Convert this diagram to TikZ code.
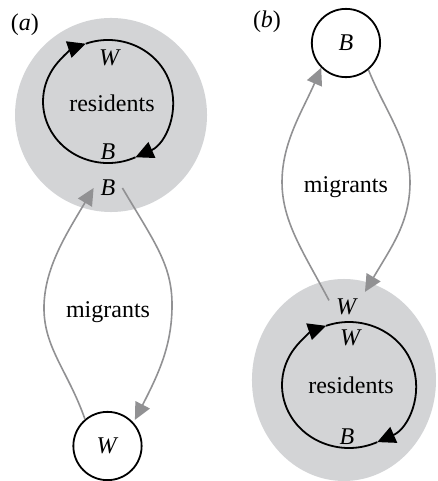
\documentclass[tikz,border=0pt]{standalone}
\usepackage{fontspec}
\setmainfont{Liberation Serif}
\usepackage{tikz}
\usetikzlibrary{arrows.meta}
\definecolor{patch}{RGB}{211,212,214}
\definecolor{route}{RGB}{145,145,147}

\begin{document}
\begin{tikzpicture}[every node/.style={font=\fontsize{12}{14}\selectfont},
				   site/.style={circle, draw=black, line width=0.9pt, minimum size=1.2cm, inner sep=0pt},
				   flow/.style={route, line width=0.8pt, -{Triangle[length=8.5pt, width=8pt]}},
				   turn/.style={black, line width=0.9pt, -{Triangle[length=9pt, width=8.5pt]}}]
\useasboundingbox (0,0) rectangle (7.697,8.453);

\fill[patch] (1.951,6.432) ellipse [x radius=1.687, y radius=1.705];
\fill[patch] (6.045,1.775) ellipse [x radius=1.617, y radius=1.775];

\node (labA) at (0.439,8.014) {(\textit{a})};
\node (labB) at (4.692,8.067) {(\textit{b})};

\coordinate (ringA) at (1.898,6.669);
\draw[turn] ([shift={(295:1.142 and 1.081)}]ringA) arc [start angle=295, end angle=110, x radius=1.142, y radius=1.081];
\draw[turn] ([shift={(110:1.142 and 1.081)}]ringA) arc [start angle=110, end angle=-65, x radius=1.142, y radius=1.081];
\node (WinA) at (1.933,7.433) {\textit{W}};
\node (resA) at (1.968,6.643) {residents};
\node (BinA) at (1.898,5.782) {\textit{B}};
\node (Bgate) at (1.898,5.149) {\textit{B}};
\node (migA) at (1.898,2.970) {migrants};
\node[site] (Wlow) at (1.889,0.615) {\textit{W}};

\draw[flow] (Wlow.130) .. controls (1.195,1.933) and (0.773,2.337) .. (0.773,3.040)
	.. controls (0.773,3.743) and (1.177,4.358) .. (Bgate.west);
\draw[flow, shorten >=1.5pt] (Bgate.east) .. controls (2.724,4.182) and (3.023,3.796) .. (3.023,3.093)
	.. controls (3.023,2.390) and (2.794,1.898) .. (Wlow.42);

\node[site] (Btop) at (6.080,7.697) {\textit{B}};
\node (migB) at (6.080,5.166) {migrants};
\node (Wgate) at (6.098,3.058) {\textit{W}};
\coordinate (ringB) at (6.133,1.687);
\draw[turn] ([shift={(295:1.177 and 1.107)}]ringB) arc [start angle=295, end angle=110, x radius=1.177, y radius=1.107];
\draw[turn] ([shift={(110:1.177 and 1.107)}]ringB) arc [start angle=110, end angle=-65, x radius=1.177, y radius=1.107];
\node (WinB) at (6.168,2.513) {\textit{W}};
\node (resB) at (6.168,1.687) {residents};
\node (BinB) at (6.098,0.773) {\textit{B}};

\draw[flow] (Wgate.160) .. controls (5.342,4.006) and (4.956,4.551) .. (4.956,5.254)
	.. controls (4.956,5.957) and (5.325,6.520) .. (Btop.225);
\draw[flow] (Btop.-50) .. controls (6.748,6.537) and (7.205,5.957) .. (7.205,5.254)
	.. controls (7.205,4.551) and (6.889,4.130) .. (Wgate.north east);
\end{tikzpicture}
\end{document}
